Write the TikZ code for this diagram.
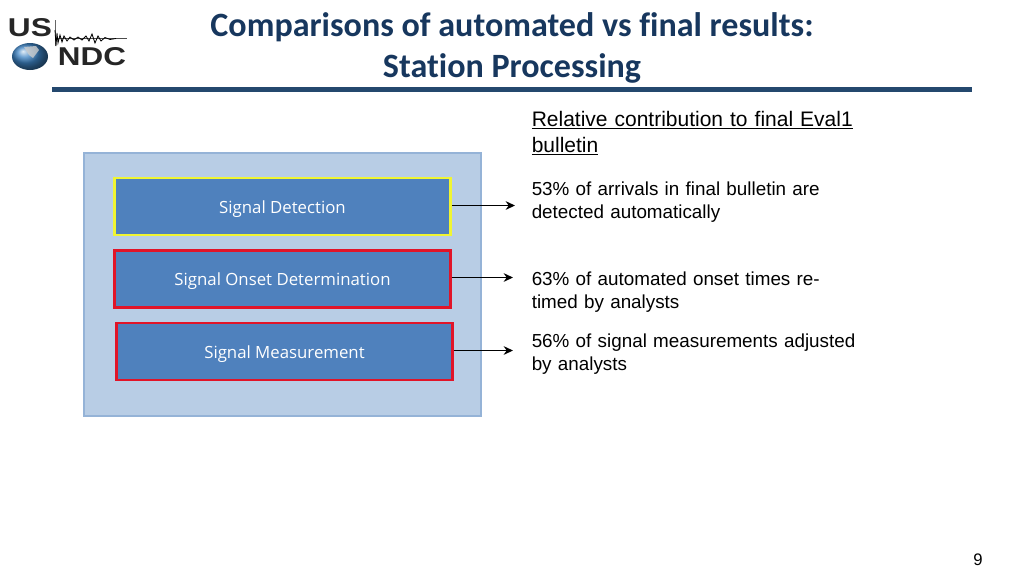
\documentclass[tikz,border=0pt]{standalone}
\usepackage{fontspec}
\usepackage{graphicx}
\setmainfont{Liberation Sans}
\newfontfamily\titlefont[Ligatures=NoCommon]{Carlito}
\newfontfamily\boxfont{Open Sans}
\usetikzlibrary{arrows.meta}
\definecolor{navy}{RGB}{23,55,94}
\definecolor{rulebar}{RGB}{36,72,110}
\definecolor{panelfill}{RGB}{184,205,229}
\definecolor{panelline}{RGB}{149,179,215}
\definecolor{boxfill}{RGB}{79,129,189}
\definecolor{yel}{RGB}{240,245,50}
\definecolor{redb}{RGB}{225,20,40}
\definecolor{globeblue}{RGB}{60,130,195}
\tikzset{
  px/.style={x=0.75pt,y=-0.75pt},
  titletext/.style={font=\titlefont\bfseries\fontsize{25.55pt}{28pt}\selectfont,text=navy,inner sep=0pt,anchor=center},
  stepbox/.style={draw=#1,line width=1.9pt,fill=boxfill,text=white,font=\boxfont\fontsize{12.6pt}{14pt}\selectfont,inner sep=0pt,text height=11pt,text depth=1pt,minimum height=43pt,minimum width=252pt,anchor=center},
  bodytext/.style={font=\fontsize{14.13pt}{17.3pt}\selectfont,text=black,inner sep=0pt,anchor=north west,align=left,text width=270pt},
  headtext/.style={font=\fontsize{15.75pt}{19.6pt}\selectfont,text=black,inner sep=0pt,anchor=north west,align=left,text width=270pt},
  conn/.style={-{Stealth[length=7pt,width=6.5pt]},line width=1.4pt,black},
  logotext/.style={font=\bfseries,text=black!85,inner sep=0pt,anchor=center}
}
\begin{document}
\begin{tikzpicture}[px]
\useasboundingbox (0,0) rectangle (1024,576);
% title
\node[titletext] (t1) at (512,27) {Comparisons of automated vs final results:};
\node[titletext] (t2) at (512,68) {Station Processing};
\fill[rulebar] (52,87) rectangle (972,91.5);
% logo
\node[logotext] (us) at (30,28) {\resizebox{33pt}{13.5pt}{US}};
\node[logotext] (ndc) at (92,57) {\resizebox{51pt}{13.5pt}{NDC}};
\shade[ball color=globeblue] (30,56.5) circle (18 and 13.5);
\fill[white!60!gray,opacity=.8] (24,47) -- (36,46) -- (39,50) -- (33,58) -- (29,55) -- cycle;
\draw[black!60,line width=.4pt] (55,20) -- (55,46);
\draw[black!70,line width=.4pt] (55,38.5) -- (127,38.5);
\draw[black,line width=.6pt] (55,30) -- (56,46) -- (57,33) -- (58,43) -- (60,35) -- (62,42) -- (64,36) -- (67,41) -- (70,37) -- (74,40) -- (78,37) -- (82,40) -- (86,36) -- (89,41) -- (92,34) -- (95,43) -- (98,36) -- (101,41) -- (105,37.5) -- (110,39.5) -- (116,38.5);
% panel
\node[draw=panelline,line width=1.5pt,fill=panelfill,minimum width=298pt,minimum height=197pt,inner sep=0pt,anchor=center] (panel) at (282.5,284.5) {};
% boxes
\node[stepbox=yel] (sd) at (282.5,206.5) {Signal Detection};
\node[stepbox=redb] (so) at (282.5,279) {Signal Onset Determination};
\node[stepbox=redb] (sm) at (284.5,351.5) {Signal Measurement};
% arrow ends
\coordinate (e1) at (515,205.5);
\coordinate (e2) at (513,277.5);
\coordinate (e3) at (513,350.5);
\draw[conn] (sd.east |- e1) -- (e1);
\draw[conn] (so.east |- e2) -- (e2);
\draw[conn] (sm.east |- e3) -- (e3);
% texts
\node[headtext] (head) at (531.5,111) {\underline{Relative contribution to final Eval1}\\\underline{bulletin}};
\node[bodytext] (b1) at (531.5,182) {53\% of arrivals in final bulletin are\\detected automatically};
\node[bodytext] (b2) at (531.5,272) {63\% of automated onset times re-\\timed by analysts};
\node[bodytext] (b3) at (531.5,334) {56\% of signal measurements adjusted\\by analysts};
\node[font=\fontsize{12.5pt}{14pt}\selectfont,inner sep=0pt] (pg) at (978,560) {9};
\end{tikzpicture}
\end{document}
